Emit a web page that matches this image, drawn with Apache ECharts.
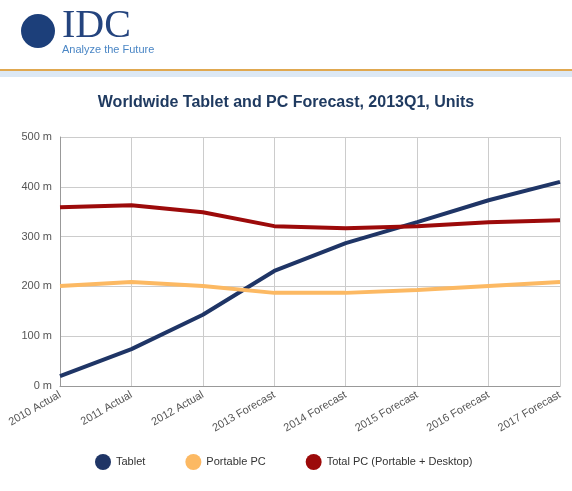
<!DOCTYPE html>
<html><head><meta charset="utf-8">
<script src="https://cdn.jsdelivr.net/npm/echarts@6/dist/echarts.min.js"></script>
<style>html,body{margin:0;padding:0;background:#fff}#c{width:572px;height:491px}</style>
</head><body><div id="c"></div>
<script>
var categories = ['2010 Actual', '2011 Actual', '2012 Actual', '2013 Forecast', '2014 Forecast', '2015 Forecast', '2016 Forecast', '2017 Forecast'];
var tablet = [20, 74, 143, 231, 287, 329, 373, 410];
var portablePC = [201, 209, 201, 187, 187, 193, 201, 209];
var totalPC = [359, 363, 349, 321, 317, 321, 329, 333];

var myChart = echarts.init(document.getElementById('c'));
function line(name, data, color) {
    return {
        name: name, type: 'line', data: data, symbol: 'none',
        lineStyle: { color: color, width: 4 }, itemStyle: { color: color }
    };
}
var option = {
    animation: false,
    graphic: [
        { type: 'rect', shape: { x: 0, y: 69, width: 572, height: 2 }, style: { fill: '#e0a850' } },
        { type: 'rect', shape: { x: 0, y: 71, width: 572, height: 6 }, style: { fill: '#dce8f4' } },
        { type: 'circle', shape: { cx: 38, cy: 31, r: 17 }, style: { fill: '#1c3f7a' } },
        { type: 'text', left: 62, top: 6, style: { text: 'IDC', font: '40px "Liberation Serif"', fill: '#24447e' } },
        { type: 'text', left: 62, top: 44, style: { text: 'Analyze the Future', font: '11px "Liberation Sans"', fill: '#4a86c5' } }
    ],
    title: {
        text: 'Worldwide Tablet and PC Forecast, 2013Q1, Units',
        left: 'center', top: 90,
        textStyle: { fontFamily: 'Liberation Sans', fontSize: 16, fontWeight: 'bold', color: '#1f3a60' }
    },
    legend: {
        bottom: 16, left: 90, itemGap: 40, icon: 'circle', itemWidth: 16, itemHeight: 16,
        textStyle: { fontFamily: 'Liberation Sans', fontSize: 11, color: '#333' }
    },
    grid: { left: 60, right: 12, top: 137, bottom: 105 },
    xAxis: {
        type: 'category', data: categories, boundaryGap: false,
        axisLine: { lineStyle: { color: '#999' } }, axisTick: { show: false },
        splitLine: { show: true, lineStyle: { color: '#ccc' } },
        axisLabel: { rotate: 30, fontFamily: 'Liberation Sans', fontSize: 11, color: '#555', interval: 0 }
    },
    yAxis: {
        type: 'value', min: 0, max: 500, interval: 100,
        axisLine: { show: true, lineStyle: { color: '#999' } },
        splitLine: { lineStyle: { color: '#ccc' } },
        axisLabel: { formatter: '{value} m', fontFamily: 'Liberation Sans', fontSize: 11, color: '#555' }
    },
    series: [
        line('Tablet', tablet, '#1f3566'),
        line('Portable PC', portablePC, '#fcb963'),
        line('Total PC (Portable + Desktop)', totalPC, '#9c0a0a')
    ]
};
myChart.setOption(option);
</script></body></html>
